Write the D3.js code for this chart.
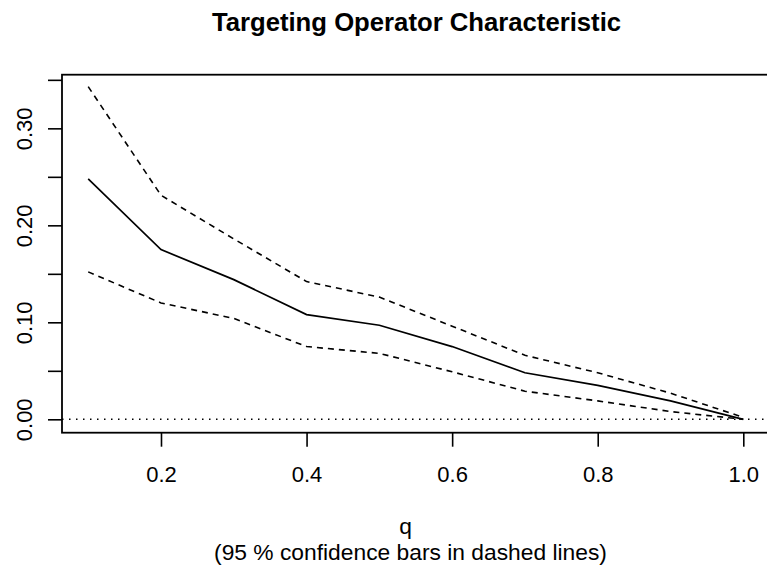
<!DOCTYPE html>
<html>
<head>
<meta charset="utf-8">
<script src="https://cdn.jsdelivr.net/npm/d3@7"></script>
<style>
  html, body { margin: 0; padding: 0; background: #fff; }
  svg { display: block; }
  text { font-family: "Liberation Sans", Arial, Helvetica, sans-serif; fill: #000; }
</style>
</head>
<body>
<script>
// Targeting Operator Characteristic: estimate with 95% confidence bounds
const q      = [0.1, 0.2, 0.3, 0.4, 0.5, 0.6, 0.7, 0.8, 0.9, 1.0];
const toc    = [0.248, 0.175, 0.144, 0.108, 0.097, 0.075, 0.048, 0.035, 0.019, 0.000];
const upper  = [0.343, 0.231, 0.186, 0.142, 0.126, 0.096, 0.066, 0.048, 0.027, 0.002];
const lower  = [0.152, 0.120, 0.104, 0.075, 0.068, 0.049, 0.029, 0.019, 0.008, 0.000];
const xTicks = [0.2, 0.4, 0.6, 0.8, 1.0];
const yTicks = [0.00, 0.05, 0.10, 0.15, 0.20, 0.25, 0.30, 0.35];
const yLabeled = [0.00, 0.10, 0.20, 0.30];

const W = 767, H = 567;
const plot = { left: 62, right: 769.5, top: 74.7, bottom: 432.7 };

const svg = d3.select("body").append("svg").attr("width", W).attr("height", H);

const x = d3.scaleLinear().domain([0.064, 1.036]).range([plot.left, plot.right]);
const y = d3.scaleLinear().domain([-0.0138, 0.3553]).range([plot.bottom, plot.top]);

// frame around the plotting region
svg.append("rect")
  .attr("x", plot.left).attr("y", plot.top)
  .attr("width", plot.right - plot.left).attr("height", plot.bottom - plot.top)
  .attr("fill", "none").attr("stroke", "#000").attr("stroke-width", 1.8);

// x axis
const xAxis = svg.append("g").attr("transform", `translate(0,${plot.bottom})`)
  .call(d3.axisBottom(x).tickValues(xTicks).tickSize(14).tickPadding(20)
    .tickFormat(d3.format(".1f")));
xAxis.select(".domain").remove();
xAxis.selectAll(".tick line").attr("stroke", "#000").attr("stroke-width", 1.6);
xAxis.selectAll("text").attr("font-size", 22).attr("dy", "0.71em");

// y axis with rotated labels on every other tick
const yAxis = svg.append("g").attr("transform", `translate(${plot.left},0)`)
  .call(d3.axisLeft(y).tickValues(yTicks).tickSize(14)
    .tickFormat(d => yLabeled.some(v => Math.abs(v - d) < 1e-9) ? d3.format(".2f")(d) : ""));
yAxis.select(".domain").remove();
yAxis.selectAll(".tick line").attr("stroke", "#000").attr("stroke-width", 1.6);
yAxis.selectAll("text")
  .attr("font-size", 22)
  .attr("text-anchor", "middle")
  .attr("x", null).attr("dy", null)
  .attr("transform", `translate(${31.5 - plot.left},0) rotate(-90)`);

// reference line at zero
svg.append("line")
  .attr("x1", plot.left).attr("x2", plot.right)
  .attr("y1", y(0)).attr("y2", y(0))
  .attr("stroke", "#000").attr("stroke-width", 1.5)
  .attr("stroke-dasharray", "1.5,5.5");

const line = d3.line().x((d, i) => x(q[i])).y(d => y(d));

svg.append("path").datum(upper).attr("d", line)
  .attr("fill", "none").attr("stroke", "#000").attr("stroke-width", 1.6)
  .attr("stroke-dasharray", "6,5");
svg.append("path").datum(lower).attr("d", line)
  .attr("fill", "none").attr("stroke", "#000").attr("stroke-width", 1.6)
  .attr("stroke-dasharray", "6,5");
svg.append("path").datum(toc).attr("d", line)
  .attr("fill", "none").attr("stroke", "#000").attr("stroke-width", 1.7);

// title and axis caption
svg.append("text").attr("x", 416.5).attr("y", 31)
  .attr("text-anchor", "middle").attr("font-size", 25.7).attr("font-weight", "bold")
  .text("Targeting Operator Characteristic");
svg.append("text").attr("x", 405.5).attr("y", 534)
  .attr("text-anchor", "middle").attr("font-size", 22.8).text("q");
svg.append("text").attr("x", 410.5).attr("y", 560)
  .attr("text-anchor", "middle").attr("font-size", 22.8)
  .text("(95 % confidence bars in dashed lines)");
</script>
</body>
</html>
